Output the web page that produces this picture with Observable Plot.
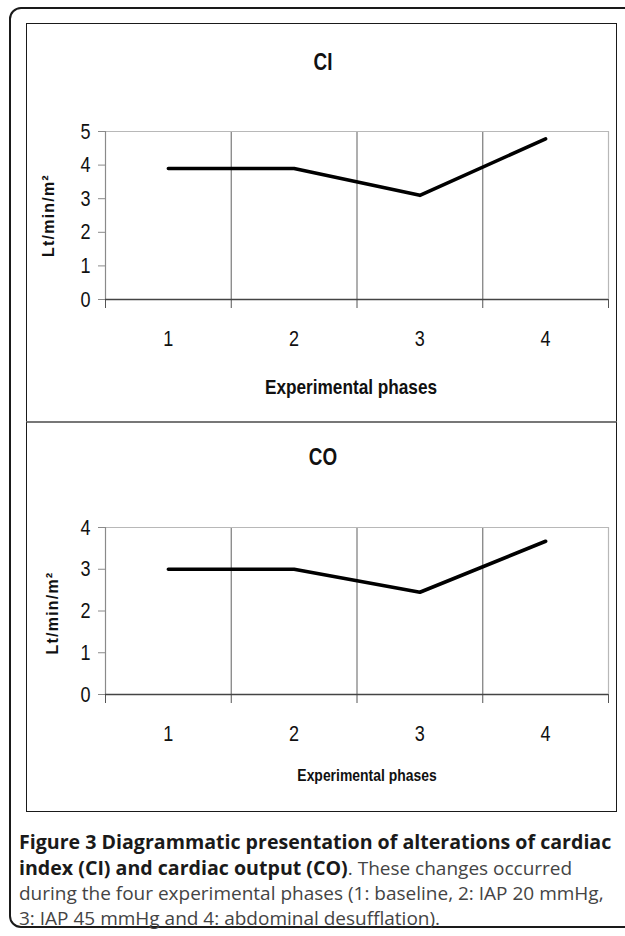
<!DOCTYPE html>
<html>
<head>
<meta charset="utf-8">
<script src="https://cdn.jsdelivr.net/npm/d3@7"></script>
<script src="https://cdn.jsdelivr.net/npm/@observablehq/plot@0.6"></script>
<style>
  html, body { margin: 0; padding: 0; background: #fff; overflow: hidden; }
  #wrap { position: relative; width: 625px; height: 936px; overflow: hidden; background: #fff; }
  .frame { position: absolute; left: 9px; top: 7px; width: 660px; height: 921px; box-sizing: border-box;
           border: 2px solid #1a1a1a; border-radius: 12px; }
  .panel { position: absolute; box-sizing: border-box; border: 1px solid #1a1a1a; }
  .chart { position: absolute; }
  .chart svg { display: block; }
  #caption { position: absolute; left: 19px; top: 829px; width: 606px; font-family: "Open Sans", sans-serif;
             font-size: 19px; line-height: 25px; color: #444; white-space: nowrap; }
  #caption b { color: #1a1a1a; font-weight: 700; font-size: 19.6px; }
</style>
</head>
<body>
<div id="wrap">
  <div class="frame"></div>
  <div class="panel" style="left:26px;top:23px;width:591px;height:400px;border-bottom:2px solid #777;"></div>
  <div class="panel" style="left:26px;top:421px;width:591px;height:391px;border-top:2px solid #777;"></div>
  <div class="chart" id="ci" style="left:26px;top:23px;"></div>
  <div class="chart" id="co" style="left:26px;top:421px;"></div>
  <div id="caption">
    <b>Figure 3 Diagrammatic presentation of alterations of cardiac</b><br>
    <b>index (CI) and cardiac output (CO)</b>. These changes occurred<br>
    during the four experimental phases (1: baseline, 2: IAP 20 mmHg,<br>
    3: IAP 45 mmHg and 4: abdominal desufflation).
  </div>
</div>
<script>
// ---- data ----
const phases = [1, 2, 3, 4];
const phaseLabels = ["1", "2", "3", "4"];
const ciValues = [3.9, 3.9, 3.1, 4.78];
const coValues = [3.0, 3.0, 2.45, 3.67];
const ciTicks = [0, 1, 2, 3, 4, 5];
const coTicks = [0, 1, 2, 3, 4];
const yLabel = "Lt/min/m²";
const xLabel = "Experimental phases";

const sansFont = '"Liberation Sans", Arial, sans-serif';
const squeeze = 0.82; // Arial Narrow look
const tickFontSize = 22;

// band boundaries between phases (Excel-style category axis)
const bounds = [phases[0] - 0.5, ...phases.map(p => p + 0.5)];
const innerBounds = bounds.slice(1, -1);

function makeChart(values, yTicks, title, o) {
  const table = phases.map((p, i) => ({phase: p, value: values[i]}));
  const yMax = yTicks[yTicks.length - 1];
  return Plot.plot({
    width: 590,
    height: o.height,
    marginLeft: 79,
    marginRight: 8,
    marginTop: o.marginTop,
    marginBottom: o.marginBottom,
    style: {fontFamily: sansFont, fontSize: tickFontSize + "px", background: "transparent", color: "#111", overflow: "visible"},
    x: {domain: [bounds[0], bounds[bounds.length - 1]]},
    y: {domain: [yTicks[0], yMax]},
    marks: [
      Plot.ruleX(innerBounds, {stroke: "#7a7a7a", strokeWidth: 1.2}),
      Plot.ruleY([yMax], {stroke: "#b8b8b8", strokeWidth: 1.2}),
      Plot.ruleX([bounds[bounds.length - 1]], {stroke: "#b8b8b8", strokeWidth: 1.2}),
      Plot.ruleX([bounds[0]], {stroke: "#8a8a8a", strokeWidth: 1.2}),
      Plot.axisY({ticks: yTicks, tickSize: 7, tickPadding: 8, fontSize: tickFontSize, stroke: "#8a8a8a", label: null, tickFormat: d => String(d)}),
      Plot.axisX({ticks: bounds, tickSize: 9, tickFormat: () => "", stroke: "#555", label: null}),
      Plot.axisX({ticks: phases, tickSize: 0, tickPadding: 31, fontSize: tickFontSize, label: null, tickFormat: d => phaseLabels[phases.indexOf(d)]}),
      Plot.ruleY([yTicks[0]], {stroke: "#444", strokeWidth: 1.6}),
      Plot.lineY(table, {x: "phase", y: "value", stroke: "#000", strokeWidth: 3.6, strokeLinejoin: "round"}),
      Plot.text([title], {text: d => d, frameAnchor: "top", lineAnchor: "middle", textAnchor: "middle", dx: -34, dy: o.titleDy, fontSize: 23, fontWeight: "bold", fill: "#111"}),
      Plot.text([xLabel], {text: d => d, frameAnchor: "bottom", lineAnchor: "middle", textAnchor: "middle", dx: o.xLabelDx, dy: o.xLabelDy, fontSize: o.xLabelSize, fontWeight: "bold", fill: "#111"}),
      Plot.text([yLabel], {text: d => d, frameAnchor: "left", lineAnchor: "middle", textAnchor: "middle", rotate: -90, dx: o.yLabelDx, dy: o.yLabelDy, fontSize: 16, fontWeight: "bold", fill: "#111"})
    ]
  });
}

// give the Arial-metric text the condensed proportions of the original chart font
function condense(svg) {
  svg.querySelectorAll("text").forEach(t => {
    if (t.textContent === yLabel) { t.style.letterSpacing = "1.2px"; return; }
    if (/^\d$/.test(t.textContent.trim())) t.style.fontSize = tickFontSize + "px";
    const tr = t.getAttribute("transform") || "";
    if (t.hasAttribute("x")) t.setAttribute("x", (+t.getAttribute("x")) / squeeze);
    t.setAttribute("transform", (tr + " scale(" + squeeze + ",1)").trim());
  });
  return svg;
}

document.getElementById("ci").append(condense(makeChart(ciValues, ciTicks, "CI", {
  height: 398, marginTop: 108, marginBottom: 122, titleDy: -69, xLabelDx: -6, xLabelDy: 88, xLabelSize: 21, yLabelDx: -57, yLabelDy: 0
})));
document.getElementById("co").append(condense(makeChart(coValues, coTicks, "CO", {
  height: 390, marginTop: 106, marginBottom: 117, titleDy: -70, xLabelDx: 10, xLabelDy: 81, xLabelSize: 17, yLabelDx: -53, yLabelDy: 2
})));
</script>
</body>
</html>
